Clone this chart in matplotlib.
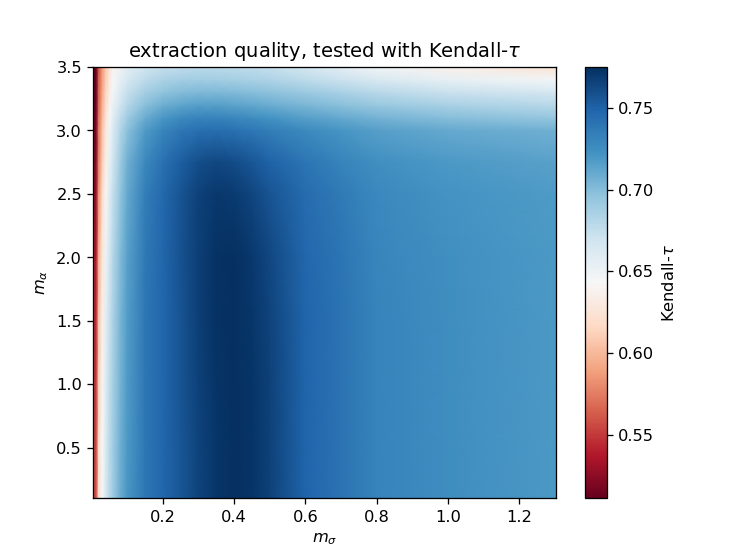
import numpy as np
import matplotlib
matplotlib.use("Agg")
import matplotlib.pyplot as plt

# knots (x = m_sigma, y = m_alpha)
m_sigma = [0.005, 0.013, 0.02, 0.03, 0.04, 0.05, 0.06, 0.08, 0.1, 0.15, 0.2,
           0.25, 0.3, 0.35, 0.4, 0.45, 0.5, 0.6, 0.7, 0.8, 1.0, 1.305]
m_alpha = [0.1, 0.5, 1.0, 1.5, 2.0, 2.5, 2.75, 3.0, 3.1, 3.2, 3.3, 3.4, 3.5]

# Kendall-tau, one row per m_alpha knot (bottom to top)
tau = [
    [0.558, 0.558, 0.620, 0.645, 0.665, 0.680, 0.690, 0.707, 0.720, 0.738, 0.748, 0.756, 0.765, 0.771, 0.774, 0.772, 0.766, 0.749, 0.740, 0.731, 0.725, 0.719],
    [0.555, 0.555, 0.618, 0.644, 0.664, 0.679, 0.689, 0.706, 0.719, 0.738, 0.748, 0.756, 0.765, 0.771, 0.774, 0.772, 0.766, 0.749, 0.740, 0.731, 0.725, 0.719],
    [0.550, 0.550, 0.612, 0.640, 0.661, 0.676, 0.687, 0.704, 0.718, 0.738, 0.748, 0.757, 0.766, 0.772, 0.775, 0.772, 0.766, 0.749, 0.740, 0.731, 0.725, 0.719],
    [0.545, 0.545, 0.605, 0.635, 0.657, 0.673, 0.685, 0.703, 0.717, 0.738, 0.748, 0.757, 0.767, 0.773, 0.775, 0.771, 0.765, 0.749, 0.740, 0.731, 0.725, 0.719],
    [0.537, 0.537, 0.595, 0.627, 0.651, 0.668, 0.681, 0.700, 0.715, 0.737, 0.748, 0.758, 0.767, 0.773, 0.774, 0.770, 0.763, 0.748, 0.739, 0.730, 0.724, 0.719],
    [0.528, 0.528, 0.585, 0.617, 0.642, 0.660, 0.674, 0.695, 0.711, 0.734, 0.747, 0.757, 0.766, 0.770, 0.769, 0.764, 0.757, 0.745, 0.736, 0.728, 0.722, 0.718],
    [0.523, 0.523, 0.578, 0.610, 0.635, 0.654, 0.668, 0.690, 0.706, 0.728, 0.742, 0.752, 0.760, 0.763, 0.761, 0.756, 0.750, 0.739, 0.731, 0.724, 0.719, 0.715],
    [0.518, 0.518, 0.573, 0.604, 0.629, 0.648, 0.662, 0.682, 0.697, 0.718, 0.730, 0.738, 0.743, 0.744, 0.742, 0.738, 0.734, 0.727, 0.721, 0.716, 0.711, 0.706],
    [0.516, 0.516, 0.571, 0.600, 0.625, 0.644, 0.657, 0.676, 0.690, 0.709, 0.720, 0.727, 0.731, 0.731, 0.729, 0.726, 0.722, 0.716, 0.711, 0.705, 0.699, 0.694],
    [0.514, 0.514, 0.568, 0.596, 0.620, 0.639, 0.652, 0.669, 0.681, 0.698, 0.707, 0.713, 0.716, 0.716, 0.714, 0.712, 0.709, 0.703, 0.698, 0.693, 0.686, 0.680],
    [0.513, 0.513, 0.566, 0.592, 0.615, 0.634, 0.647, 0.662, 0.673, 0.688, 0.696, 0.700, 0.702, 0.702, 0.701, 0.699, 0.697, 0.692, 0.686, 0.680, 0.672, 0.666],
    [0.512, 0.512, 0.564, 0.589, 0.611, 0.629, 0.642, 0.655, 0.665, 0.678, 0.685, 0.688, 0.689, 0.689, 0.688, 0.686, 0.684, 0.678, 0.671, 0.664, 0.654, 0.647],
    [0.511, 0.511, 0.562, 0.587, 0.608, 0.626, 0.638, 0.650, 0.658, 0.668, 0.674, 0.677, 0.679, 0.679, 0.678, 0.676, 0.674, 0.666, 0.657, 0.648, 0.636, 0.624],
]

fig = plt.figure(figsize=(6.4, 4.8), dpi=116.7)
mesh = plt.pcolormesh(m_sigma, m_alpha, np.array(tau), cmap="RdBu",
                      shading="gouraud", vmin=0.511, vmax=0.775)
cb = plt.colorbar(mesh)
cb.set_label(r"Kendall-$\tau$")
plt.xlim(0.005, 1.305)
plt.ylim(0.1, 3.5)
plt.xticks([0.2, 0.4, 0.6, 0.8, 1.0, 1.2])
plt.title(r"extraction quality, tested with Kendall-$\tau$")
plt.xlabel(r"$m_\sigma$")
plt.ylabel(r"$m_\alpha$")
plt.savefig("out.png", dpi=116.7)
